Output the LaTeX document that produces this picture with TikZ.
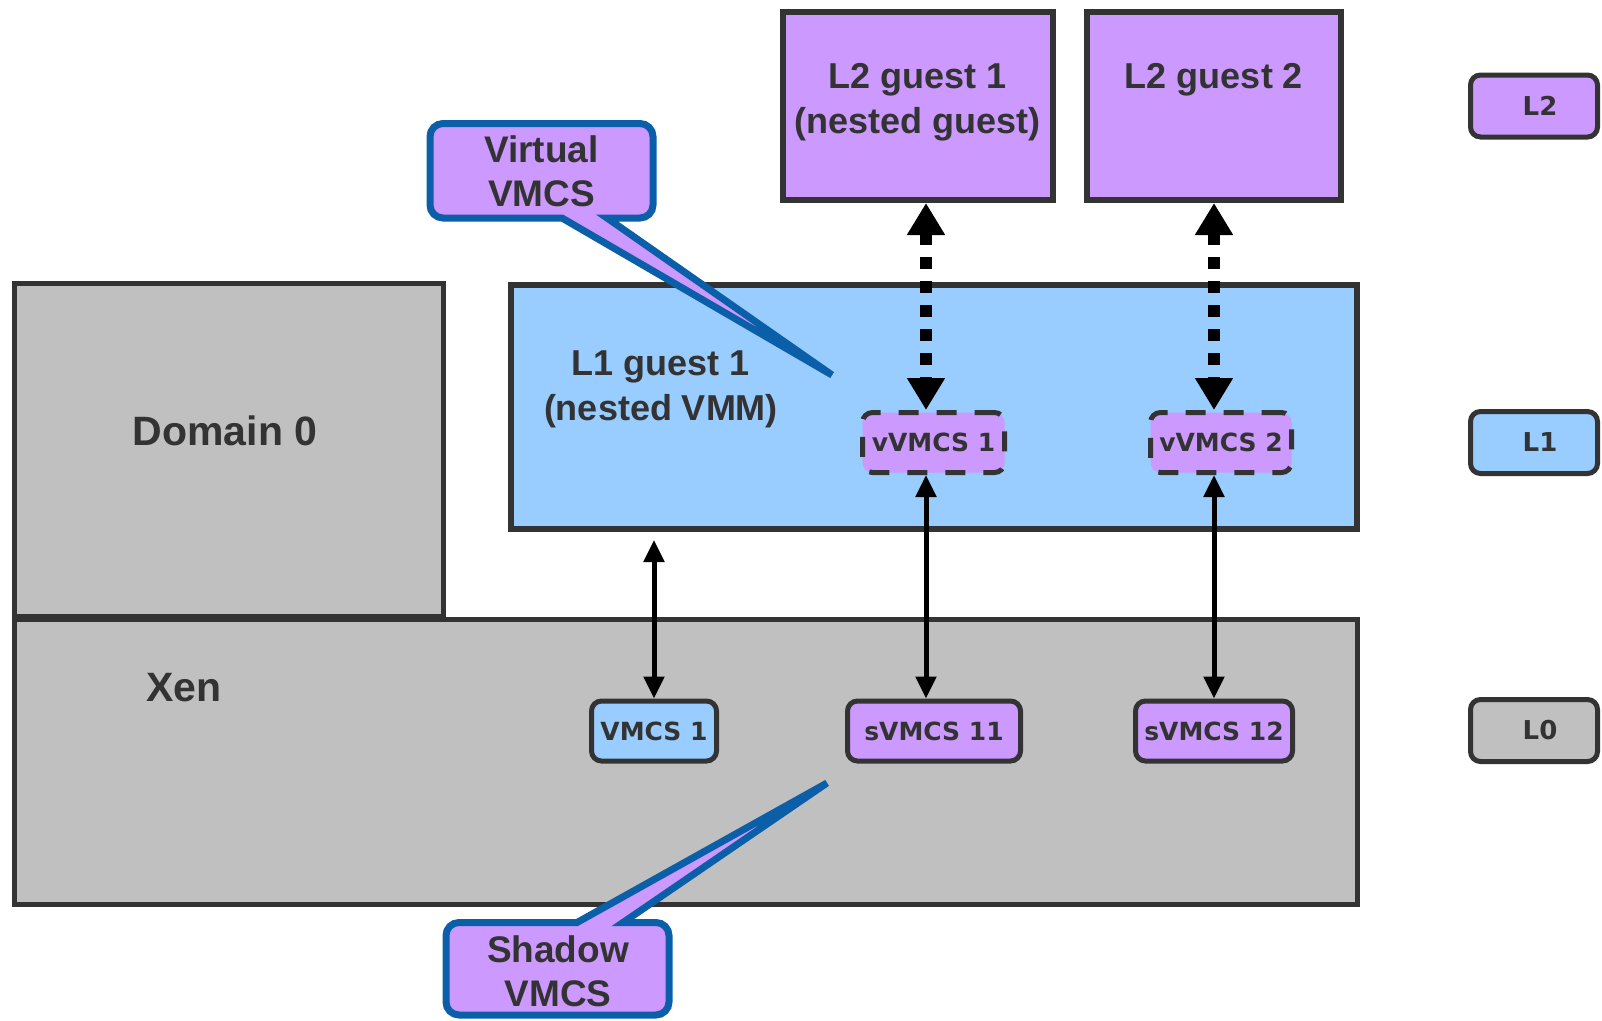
\documentclass[tikz,border=0pt]{standalone}
\usepackage{fontspec}
\setmainfont{Liberation Sans}
\newfontfamily\boxfont{DejaVu Sans}
\usetikzlibrary{arrows.meta,positioning}

\definecolor{vmpurple}{HTML}{CC99FF}
\definecolor{vmblue}{HTML}{99CCFF}
\definecolor{vmgray}{HTML}{C0C0C0}
\definecolor{vmdark}{HTML}{333333}
\definecolor{vmcall}{HTML}{0A5FA8}

\begin{document}
\begin{tikzpicture}[
    x = 1pt, y = -1pt, % one unit per pixel of the drawing
    bigbox/.style = {draw = vmdark, line width = 5pt, inner sep = 0pt},
    biglabel/.style = {text = vmdark, font = \fontsize{36}{45}\selectfont\bfseries, align = center},
    smallbox/.style = {draw = vmdark, line width = 5pt, rounded corners = 10pt,
        minimum height = 60pt, inner sep = 0pt, text = vmdark,
        font = \boxfont\fontsize{25}{30}\selectfont\bfseries},
    levelbox/.style = {smallbox, minimum width = 127pt, minimum height = 62pt,
        font = \boxfont\fontsize{26}{30}\selectfont\bfseries},
    callout/.style = {draw = vmcall, fill = vmpurple, line width = 7pt},
    calltext/.style = {biglabel, font = \fontsize{37}{44}\selectfont\bfseries},
    dotarrow/.style = {{Triangle[width=36pt,length=32pt]}-{Triangle[width=36pt,length=32pt]},
        line width = 12pt, dash pattern = on 12pt off 12pt},
    linkarrow/.style = {{Triangle[width=20pt,length=22pt]}-{Triangle[width=20pt,length=22pt]},
        line width = 5pt}
    ]

    \useasboundingbox (0,0) rectangle (1602,1020);

    % hypervisor and guests
    \node[bigbox, fill = vmgray, minimum width = 1343pt, minimum height = 285pt] (xen) at (686,762) {};
    \node[bigbox, fill = vmgray, minimum width = 429pt, minimum height = 333pt] (dom0) at (229,450) {};
    \node[bigbox, fill = vmblue, line width = 6pt, minimum width = 846pt, minimum height = 244pt] (l1) at (934,407) {};
    \node[bigbox, fill = vmpurple, line width = 6pt, minimum width = 270pt, minimum height = 188pt] (l2a) at (917.5,106) {};
    \node[bigbox, fill = vmpurple, line width = 6pt, minimum width = 254pt, minimum height = 188pt] (l2b) at (1214,106) {};

    \node[biglabel, font = \fontsize{41}{45}\selectfont\bfseries] (dom0txt) at (225,431) {Domain 0};
    \node[biglabel, font = \fontsize{41}{45}\selectfont\bfseries] (xentxt) at (184,688) {Xen};
    \node[biglabel] (l1txt) at (661,389) {L1 guest 1\\(nested VMM)};
    \node[biglabel] (l2atxt) at (917.5,102) {L2 guest 1\\(nested guest)};
    \node[biglabel] (l2btxt) at (1214,80) {L2 guest 2};

    % VMCS boxes
    \node[smallbox, fill = vmpurple, dashed, dash pattern = on 20pt off 18pt, minimum width = 142pt] (vv1) at (933.5,442.5) {vVMCS 1};
    \node[smallbox, fill = vmpurple, dashed, dash pattern = on 20pt off 18pt, minimum width = 141pt] (vv2) at (1221,442.5) {vVMCS 2};
    \node[smallbox, fill = vmblue, minimum width = 125pt] (vmcs1) at (654,731) {VMCS 1};
    \node[smallbox, fill = vmpurple, minimum width = 173pt] (sv11) at (934,731) {sVMCS 11};
    \node[smallbox, fill = vmpurple, minimum width = 157pt] (sv12) at (1214,731) {sVMCS 12};

    % level legend
    \node[levelbox, fill = vmpurple] (lvl2) at (1534,106) {\hspace{12pt}L2};
    \node[levelbox, fill = vmblue] (lvl1) at (1534,442.5) {\hspace{12pt}L1};
    \node[levelbox, fill = vmgray] (lvl0) at (1534,730.5) {\hspace{12pt}L0};

    % arrows
    \coordinate (xa) at (926,0);
    \coordinate (xb) at (1214,0);
    \coordinate (xc) at (654,0);
    \draw[dotarrow] (l2a.south -| xa) -- (vv1.north -| xa);
    \draw[dotarrow] (l2b.south -| xb) -- (vv2.north -| xb);
    \draw[linkarrow] (vv1.south -| xa) -- (sv11.north -| xa);
    \draw[linkarrow] (vv2.south -| xb) -- (sv12.north -| xb);
    \draw[linkarrow, shorten <= 8pt] (l1.south -| xc) -- (vmcs1.north -| xc);

    % callouts
    \coordinate (virttip) at (832,375);
    \coordinate (shadtip) at (827,783);
    \draw[callout] (541,123.5) -- (640,123.5) arc[start angle=90, end angle=0, radius=13pt]
        -- (653,205) arc[start angle=0, end angle=-90, radius=13pt]
        -- (607,218) -- (virttip) -- (562,218)
        -- (443,218) arc[start angle=-90, end angle=-180, radius=13pt]
        -- (430,136.5) arc[start angle=180, end angle=90, radius=13pt] -- cycle;
    \node[calltext] (virt) at (541.5,171) {Virtual\\VMCS};
    \draw[callout] (558,1015) -- (459,1015) arc[start angle=-90, end angle=-180, radius=13pt]
        -- (446,935.5) arc[start angle=180, end angle=90, radius=13pt]
        -- (577,922.5) -- (shadtip) -- (623,922.5)
        -- (656,922.5) arc[start angle=90, end angle=0, radius=13pt]
        -- (669,1002) arc[start angle=0, end angle=-90, radius=13pt] -- cycle;
    \node[calltext] (shad) at (558,971) {Shadow\\VMCS};

\end{tikzpicture}
\end{document}
